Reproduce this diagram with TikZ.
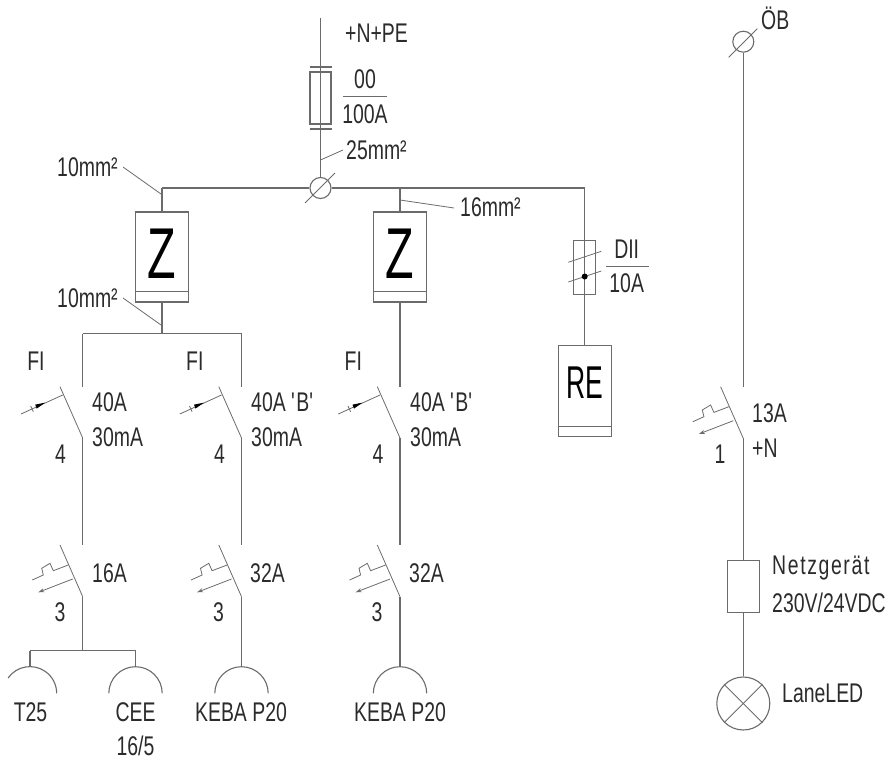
\documentclass[tikz,border=0pt]{standalone}
\usepackage{fontspec}
\setmainfont[FakeStretch=0.72]{Liberation Sans}
\usepackage{xcolor}
\usetikzlibrary{arrows.meta}
\definecolor{wire}{rgb}{0.42, 0.42, 0.42}
\definecolor{ink}{rgb}{0.17, 0.17, 0.17}

\begin{document}
\begin{tikzpicture}[x=1pt,y=-1pt]
	\useasboundingbox (0,0) rectangle (889,760);
	\tikzstyle{edge} = [draw=wire,line width=1.1pt]
	\tikzstyle{thin edge} = [draw=wire,line width=0.8pt]
	\tikzstyle{label} = [inner sep=0pt,text=ink,font=\fontsize{27}{27}\selectfont]
	\tikzstyle{left label} = [label,anchor=west]
	\tikzstyle{meter} = [rectangle,draw=wire,line width=1.1pt,minimum width=53pt,minimum height=90pt,inner sep=0pt]
	\tikzstyle{part} = [rectangle,draw=wire,line width=1.1pt,inner sep=0pt]
	\tikzstyle{round part} = [circle,draw=wire,line width=1.1pt,inner sep=0pt]
	% infeed
	\coordinate (top) at (320.5,18);
	\coordinate (barA) at (320.5,67);
	\coordinate (barB) at (320.5,129);
	\node[part,minimum width=21pt,minimum height=52pt] (mainfuse) at (320.5,98) {};
	\node[round part,minimum size=21pt] (dist) at (320.5,188) {};
	\draw[edge] (top)--(barA);
	\draw[edge] (barA)--(barB);
	\draw[edge] ([xshift=-11pt]barA)--([xshift=11pt]barA);
	\draw[edge] ([xshift=-11pt]barB)--([xshift=11pt]barB);
	\draw[edge] (barB)--(dist);
	\coordinate (distA) at (305,203);
	\coordinate (distB) at (335,173);
	\draw[thin edge] (distA)--(distB);
	\coordinate (tick25) at (320.5,160);
	\coordinate (tick25end) at (343,150);
	\draw[thin edge] (tick25)--(tick25end);
	\node[label] (lNPE) at (376.5,33) {+N+PE};
	\node[label] (lF00) at (365,79) {00};
	\node[label] (lF100) at (365,114) {100A};
	\draw[thin edge] (343,96)--(387,96);
	\node[left label] (l25) at (346,150) {25mm²};
	% busbar
	\coordinate (busL) at (162,188);
	\coordinate (busM) at (400,188);
	\coordinate (busR) at (584.7,188);
	\draw[edge] (busL)--(dist);
	\draw[edge] (dist)--(busR);
	% meters
	\node[meter] (z1) at (162,257) {};
	\node[meter] (z2) at (400,257) {};
	\node[label,font=\fontsize{72}{72}\selectfont,text=black,xscale=0.9] (z1t) at (162,254) {Z};
	\node[label,font=\fontsize{72}{72}\selectfont,text=black,xscale=0.9] (z2t) at (400,254) {Z};
	\draw[thin edge] ([yshift=11pt]z1.south west)--([yshift=11pt]z1.south east);
	\draw[thin edge] ([yshift=11pt]z2.south west)--([yshift=11pt]z2.south east);
	\draw[edge] (busL)--(z1);
	\draw[edge] (busM)--(z2);
	\coordinate (tick10a) at (161,194);
	\coordinate (tick10aend) at (123,167);
	\coordinate (tick10b) at (161,325);
	\coordinate (tick10bend) at (123,298);
	\coordinate (tick16) at (400,200);
	\coordinate (tick16end) at (454,208);
	\draw[thin edge] (tick10a)--(tick10aend);
	\draw[thin edge] (tick10b)--(tick10bend);
	\draw[thin edge] (tick16)--(tick16end);
	\node[left label] (l10a) at (57,167) {10mm²};
	\node[left label] (l10b) at (57,298) {10mm²};
	\node[left label] (l16) at (460,207) {16mm²};
	% FI bus
	\coordinate (fiJ) at (162,333.5);
	\coordinate (fiL) at (82.7,333.5);
	\coordinate (fiR) at (241.5,333.5);
	\draw[edge] (z1)--(fiJ);
	\draw[edge] (fiL)--(fiJ);
	\draw[edge] (fiJ)--(fiR);
	% FI switches and breakers
	\foreach \name/\px in {a/82.7,b/241.5,c/400} {
		\coordinate (fi\name top) at (\px,386.7);
		\coordinate (fi\name low) at (\px,438);
		\coordinate (mcb\name top) at (\px,545);
		\coordinate (mcb\name low) at (\px,596.7);
		\draw[edge] (fi\name low)--(mcb\name top);
		\begin{scope}[shift={(\px,0)}]
			\draw[thin edge] (-22.7,386.7)--(0,438);
			\draw[thin edge] (-20,395)--(-61.7,414);
			\fill[black] (-37.7,402.7)--(-47.5,404.6)--(-46,408.6)--cycle;
			\draw[thin edge] (-52,406)--(-49.4,411.7);
			\draw[thin edge] (-22.7,545)--(0,596.7);
			\draw[thin edge] (-50.4,580)--(-39.4,575)--(-41,568.3)--(-32.7,563.3)--(-29.4,570.7)--(-14.4,565);
			\draw[thin edge,-{Stealth[open,length=6pt,width=4pt]}] (-10,579)--(-44.4,592.3);
		\end{scope}
		\node[label] (fi\name t) at ({\px-46.7},361) {FI};
	}
	\draw[edge] (fiL)--(fiatop);
	\draw[edge] (fiR)--(fibtop);
	\draw[edge] (z2)--(fictop);
	\node[left label] (la1) at (92,402) {40A};
	\node[left label] (la2) at (92,437) {30mA};
	\node[left label] (lb1) at (251,402) {40A \textquotesingle B\textquotesingle};
	\node[left label] (lb2) at (251,437) {30mA};
	\node[left label] (lc1) at (410,402) {40A \textquotesingle B\textquotesingle};
	\node[left label] (lc2) at (410,437) {30mA};
	\node[label] (la3) at (60.5,454) {4};
	\node[label] (lb3) at (219.5,454) {4};
	\node[label] (lc3) at (378,454) {4};
	\node[left label] (ma1) at (92,573) {16A};
	\node[left label] (mb1) at (250,573) {32A};
	\node[left label] (mc1) at (409,573) {32A};
	\node[label] (ma2) at (60,612) {3};
	\node[label] (mb2) at (218.5,612) {3};
	\node[label] (mc2) at (377,612) {3};
	% outlets
	\coordinate (outJ) at (82.7,650.7);
	\coordinate (outL) at (30,650.7);
	\coordinate (outR) at (135.5,650.7);
	\coordinate (socketA) at (30,666.7);
	\coordinate (socketB) at (135.5,666.7);
	\coordinate (socketC) at (241.5,666.7);
	\coordinate (socketD) at (400,666.7);
	\draw[edge] (mcbalow)--(outJ);
	\draw[edge] (outL)--(outJ);
	\draw[edge] (outJ)--(outR);
	\draw[edge] (outL)--(socketA);
	\draw[edge] (outR)--(socketB);
	\draw[edge] (mcbblow)--(socketC);
	\draw[edge] (mcbclow)--(socketD);
	\draw[edge] (8.1,678) arc[start angle=145,end angle=0,x radius=26.7,y radius=-26.7];
	\draw[edge] (108.8,693.4) arc[start angle=180,end angle=0,x radius=26.7,y radius=-26.7];
	\draw[edge] (214.8,693.4) arc[start angle=180,end angle=0,x radius=26.7,y radius=-26.7];
	\draw[edge] (373.3,693.4) arc[start angle=180,end angle=0,x radius=26.7,y radius=-26.7];
	\node[label] (t25) at (30.5,712) {T25};
	\node[label] (cee) at (135.5,712) {CEE};
	\node[label] (cee2) at (135.5,746) {16/5};
	\node[label] (keba1) at (241,712) {KEBA P20};
	\node[label] (keba2) at (400,712) {KEBA P20};
	% RE branch
	\node[part,minimum width=21.7pt,minimum height=53.3pt] (refuse) at (584.7,267.4) {};
	\node[meter,minimum height=90.3pt] (re) at (584.7,391) {};
	\node[label,font=\fontsize{46}{46}\selectfont,text=black,xscale=0.8] (ret) at (584.7,383) {RE};
	\draw[thin edge] ([yshift=10.6pt]re.south west)--([yshift=10.6pt]re.south east);
	\draw[edge] (busR)--(re);
	\draw[thin edge] (568.3,262.3)--(601.3,251.3);
	\draw[thin edge] (568.3,282)--(601.3,271);
	\fill[black] (584.7,276.5) circle (3pt);
	\node[label] (dII) at (626.7,249) {DII};
	\node[label] (d10) at (626.7,283) {10A};
	\draw[thin edge] (606,266)--(648.7,266);
	% right branch
	\node[round part,minimum size=21pt] (ob) at (743.3,41.7) {};
	\coordinate (obA) at (728.7,57.3);
	\coordinate (obB) at (757.3,28.7);
	\draw[thin edge] (obA)--(obB);
	\node[left label] (lob) at (761,18.5) {ÖB};
	\coordinate (sw1top) at (743.3,386.7);
	\coordinate (sw1low) at (743.3,438.3);
	\draw[edge] (ob)--(sw1top);
	\begin{scope}[shift={(743.3,-158.3)}]
		\draw[thin edge] (-22.7,545)--(0,596.7);
		\draw[thin edge] (-50.4,580)--(-39.4,575)--(-41,568.3)--(-32.7,563.3)--(-29.4,570.7)--(-14.4,565);
		\draw[thin edge,-{Stealth[open,length=6pt,width=4pt]}] (-10,579)--(-44.4,592.3);
	\end{scope}
	\node[left label] (l13) at (752,413) {13A};
	\node[left label] (lN) at (752,448) {+N};
	\node[label] (l1) at (720,454) {1};
	\node[part,minimum width=32pt,minimum height=52.7pt] (psu) at (743.3,586.4) {};
	\draw[edge] (sw1low)--(psu);
	\node[left label,font=\fontsize{27}{27}\selectfont\addfontfeatures{LetterSpace=6}] (lp1) at (772,568) {Netzgerät};
	\node[left label] (lp2) at (772,603) {230V/24VDC};
	\node[round part,minimum size=53pt] (lamp) at (743.3,703.5) {};
	\draw[edge] (psu)--(lamp);
	\draw[thin edge] (lamp.45)--(lamp.225);
	\draw[thin edge] (lamp.135)--(lamp.315);
	\node[left label] (lled) at (782,693) {LaneLED};
\end{tikzpicture}
\end{document}
